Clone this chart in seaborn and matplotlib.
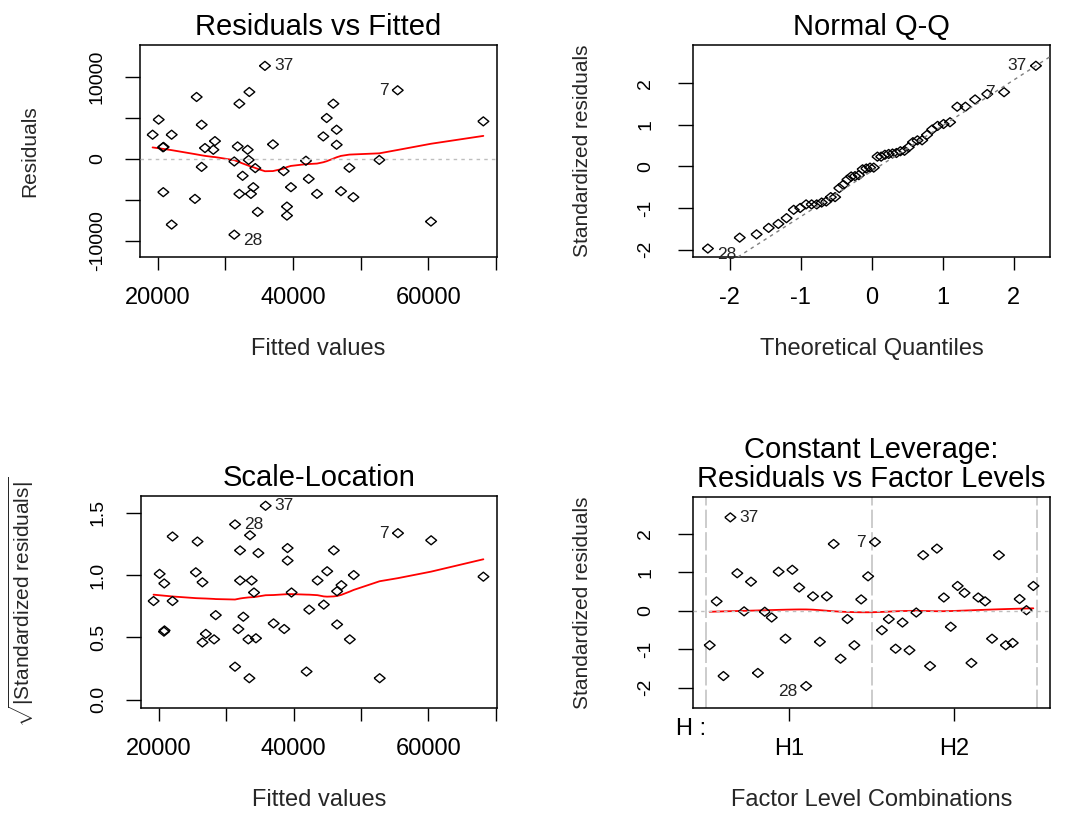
import numpy as np
import matplotlib
matplotlib.use('Agg')
import matplotlib.pyplot as plt
import seaborn as sns
from statistics import NormalDist

fitted = np.array([19260, 20150, 20800, 20880, 20840, 22070, 22070, 25520, 25760, 26500,
                   26500, 27000, 28230, 28470, 31330, 31330, 31820, 32070, 32070, 32560,
                   33300, 33450, 33550, 33790, 34140, 34430, 34780, 35860, 37040, 38620,
                   39110, 39110, 39700, 41920, 42320, 43550, 44480, 44980, 45960, 46450,
                   46450, 47090, 48330, 48920, 52760, 55470, 60390, 68130], dtype=float)
residuals = np.array([2940, 4780, 1400, 1450, -4080, 2940, -8040, -4900, 7550, 4160,
                      -990, 1310, 1100, 2160, -330, -9270, 1510, 6730, -4290, -2080,
                      1100, -140, 8160, -4290, -3470, -1140, -6490, 11350, 1760, -1510,
                      -5840, -6940, -3470, -240, -2450, -4290, 2730, 4980, 6730, 3550,
                      1710, -3960, -1100, -4690, -140, 8370, -7670, 4570], dtype=float)
# constant leverage: sigma * sqrt(1 - h)
resid_scale = 4690.0

# standardized residuals in factor-level-combination order (last panel)
factor_combo = np.arange(48)
factor_std_resid = np.array([-0.90, 0.24, -1.70, 2.42, 0.97, -0.02, 0.75, -1.62, -0.03, -0.18,
                             1.01, -0.73, 1.06, 0.60, -1.96, 0.37, -0.81, 0.37, 1.73, -1.25,
                             -0.22, -0.90, 0.29, 0.89, 1.78, -0.51, -0.22, -0.99, -0.31, -1.03,
                             -0.05, 1.44, -1.44, 1.61, 0.34, -0.42, 0.64, 0.46, -1.36, 0.34,
                             0.24, -0.73, 1.44, -0.90, -0.84, 0.30, 0.01, 0.64])
factor_levels = ['H1', 'H2']
factor_name = 'H'
# observation ids of the three largest |residuals|, largest first
id_labels = ['37', '28', '7']

std_resid = residuals / resid_scale

sns.set_style('ticks')
plt.rcParams['font.family'] = ['Liberation Sans', 'DejaVu Sans']
plt.rcParams['mathtext.fontset'] = 'custom'
plt.rcParams['mathtext.rm'] = 'Liberation Sans'
plt.rcParams['mathtext.it'] = 'Liberation Sans:italic'
plt.rcParams['axes.unicode_minus'] = False
plt.rcParams['text.color'] = 'black'

DIAMOND = [(-1, 0), (0, 0.82), (1, 0), (0, -0.82), (-1, 0)]
W, H = 1065, 815


def lowess(x, y, f=2 / 3, iters=3):
    # same smoother R's plot.lm uses for the red line
    order = np.argsort(x, kind='stable')
    x = np.asarray(x, float)[order]
    y = np.asarray(y, float)[order]
    n = len(x)
    ns = max(min(int(f * n + 1e-7), n), 2)
    rw = np.ones(n)
    ys = np.zeros(n)
    xr = x.max() - x.min()
    for it in range(iters + 1):
        for i in range(n):
            d = np.abs(x - x[i])
            h = np.sort(d)[ns - 1]
            w = np.where(d <= 0.999 * h, np.where(d <= 0.001 * h, 1.0, (1 - (d / h) ** 3) ** 3), 0.0) * rw
            a = w / w.sum()
            xm = (a * x).sum()
            b = (a * (x - xm) ** 2).sum()
            if h > 0 and np.sqrt(b) > 0.001 * xr:
                a = a * (1 + (x[i] - xm) * (x - xm) / b)
            ys[i] = (a * y).sum()
        if it == iters:
            break
        res = y - ys
        cmad = 6 * np.median(np.abs(res))
        r = np.abs(res)
        rw = np.where(r <= 0.999 * cmad, np.where(r <= 0.001 * cmad, 1.0, (1 - (r / cmad) ** 2) ** 2), 0.0)
    return x, ys.copy()


fig = plt.figure(figsize=(10.65, 8.15), dpi=100)


def panel(l, t, r, b, ypad):
    ax = fig.add_axes([l / W, 1 - b / H, (r - l) / W, (b - t) / H])
    for s in ax.spines.values():
        s.set_linewidth(1.1)
        s.set_color('black')
    ax.tick_params(axis='x', length=9.5, width=1.0, pad=12, labelsize=17, colors='black')
    ax.tick_params(axis='y', length=10.5, width=1.0, pad=ypad, labelsize=14, colors='black')
    ax.xaxis.set_label_coords(0.5, -92 / (b - t))
    return ax


def diamonds(ax, x, y):
    sns.scatterplot(x=x, y=y, marker=DIAMOND, s=62, facecolor='none', edgecolor='black',
                    linewidth=1.0, ax=ax, zorder=3)


def smooth(ax, x, y):
    lx, ly = lowess(x, y)
    sns.lineplot(x=lx, y=ly, sort=False, estimator=None, color='red', linewidth=1.3, ax=ax, zorder=2)


def id_text(ax, x, y, shift_neg=True):
    idx = np.argsort(-np.abs(y), kind='stable')[:3]
    mid = (x[idx].min() + x[idx].max()) / 2
    for name, i in zip(id_labels, idx):
        right = x[i] <= mid
        dy = -4 if (shift_neg and y[i] < 0) else 0
        ax.annotate(name, (x[i], y[i]), xytext=(6.5 if right else -6.5, dy), textcoords='offset points',
                    ha='left' if right else 'right', va='center', fontsize=12.5, color='#222222')


def labels(ax, title, xlabel, ylabel, ylab_x):
    ax.set_title(title, fontsize=21, pad=7)
    ax.set_xlabel(xlabel, fontsize=17, va='center')
    ax.set_ylabel(ylabel, fontsize=15, va='center')
    ax.yaxis.set_label_coords(ylab_x, 0.5)


# Residuals vs Fitted
ax1 = panel(140, 45, 497, 257, 14)
diamonds(ax1, fitted, residuals)
smooth(ax1, fitted, residuals)
ax1.axhline(0, color='#bebebe', lw=1.0, ls=(0, (2.5, 3)), zorder=4)
id_text(ax1, fitted, residuals)
ax1.set_xlim(17400, 70150)
ax1.set_ylim(-12000, 13900)
ax1.set_xticks([20000, 30000, 40000, 50000, 60000, 70000],
               labels=['20000', '', '40000', '', '60000', ''])
ax1.set_yticks([-10000, -5000, 0, 5000, 10000], labels=['-10000', '', '0', '', '10000'],
               rotation=90, va='center')
labels(ax1, 'Residuals vs Fitted', 'Fitted values', 'Residuals', -110 / 357)

# Normal Q-Q
qy = np.sort(std_resid)
n = len(qy)
qx = np.array([NormalDist().inv_cdf((i + 0.5) / n) for i in range(n)])
ax2 = panel(693, 45, 1050, 257, 17.5)
diamonds(ax2, qx, qy)
q1, q3 = np.percentile(std_resid, [25, 75])
z1, z3 = NormalDist().inv_cdf(0.25), NormalDist().inv_cdf(0.75)
slope = (q3 - q1) / (z3 - z1)
ax2.axline((z1, q1), slope=slope, color='#7f7f7f', lw=1.0, ls=(0, (2.5, 3)), zorder=4)
id_text(ax2, qx, qy)
ax2.set_xlim(-2.52, 2.51)
ax2.set_ylim(-2.18, 2.92)
ax2.set_xticks([-2, -1, 0, 1, 2], labels=['-2', '-1', '0', '1', '2'])
ax2.set_yticks([-2, -1, 0, 1, 2], labels=['-2', '-1', '0', '1', '2'], rotation=90, va='center')
labels(ax2, 'Normal Q-Q', 'Theoretical Quantiles', 'Standardized residuals', -110 / 357)

# Scale-Location
sl = np.sqrt(np.abs(std_resid))
ax3 = panel(141, 496, 497, 708, 14)
diamonds(ax3, fitted, sl)
smooth(ax3, fitted, sl)
id_text(ax3, fitted, sl, shift_neg=False)
ax3.set_xlim(17400, 70150)
ax3.set_ylim(-0.066, 1.634)
ax3.set_xticks([20000, 30000, 40000, 50000, 60000, 70000],
               labels=['20000', '', '40000', '', '60000', ''])
ax3.set_yticks([0, 0.5, 1.0, 1.5], labels=['0.0', '0.5', '1.0', '1.5'], rotation=90, va='center')
labels(ax3, 'Scale-Location', 'Fitted values',
       r'$\sqrt{|\mathrm{Standardized\ residuals}|}$', -120 / 356)

# Constant Leverage: Residuals vs Factor Levels
ax4 = panel(693, 497, 1050, 708, 17.5)
nlev = len(factor_levels)
per = len(factor_combo) // nlev
for v in [k * per - 0.5 for k in range(nlev + 1)]:
    ax4.axvline(v, color='#c4c4c4', lw=1.2, ls=(0, (11, 2.5)), zorder=1)
diamonds(ax4, factor_combo.astype(float), factor_std_resid)
smooth(ax4, factor_combo.astype(float), factor_std_resid)
ax4.axhline(0, color='#bebebe', lw=1.0, ls=(0, (2.5, 3)), zorder=4)
id_text(ax4, factor_combo.astype(float), factor_std_resid)
ax4.set_xlim(-0.5 - 0.04 * 48, 47.5 + 0.04 * 48)
ax4.set_ylim(-2.53, 2.95)
ax4.set_xticks([per * (k + 0.5) - 0.5 for k in range(nlev)], labels=factor_levels)
ax4.set_yticks([-2, -1, 0, 1, 2], labels=['-2', '-1', '0', '1', '2'], rotation=90, va='center')
labels(ax4, 'Constant Leverage:\nResiduals vs Factor Levels', 'Factor Level Combinations',
       'Standardized residuals', -110 / 357)
ax4.title.set_linespacing(1.05)
ax4.text(-0.047, -20.7 / 211, factor_name + ' :', transform=ax4.transAxes, ha='left',
         va='center', fontsize=17)

fig.savefig('out.png', dpi=100)
